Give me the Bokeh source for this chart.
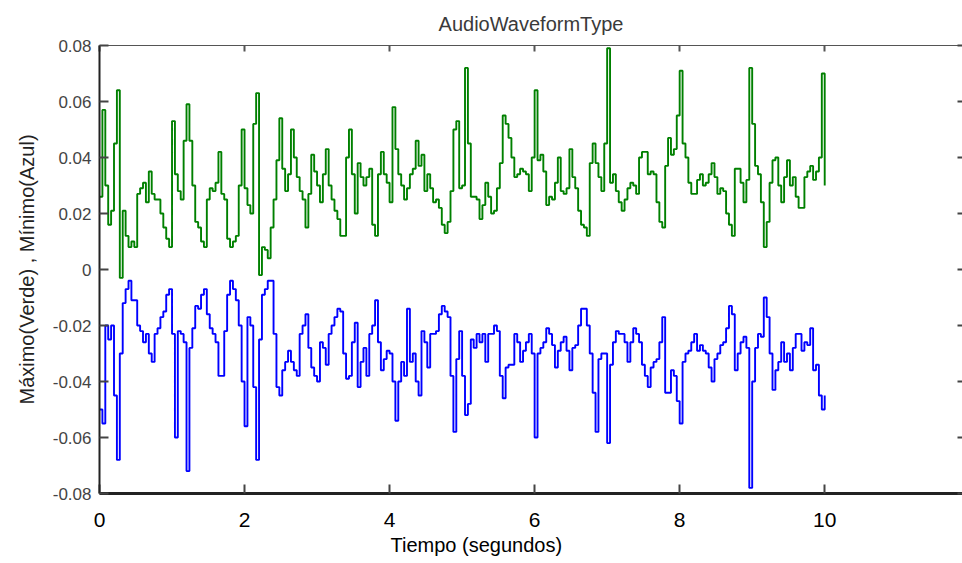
from bokeh.plotting import figure
from bokeh.models import Range1d, FixedTicker, LinearAxis, CustomJSTickFormatter, Title, ColumnDataSource
from bokeh.embed import file_html
from bokeh.resources import INLINE

title_text = "AudioWaveformType"
x_label = "Tiempo (segundos)"
y_label = "Máximo(Verde) , Mínimo(Azul)"

hop_seconds = 0.04

maximo_verde = [
    0.026, 0.057, 0.030, 0.016, 0.021, 0.045, 0.064, -0.003, 0.021, 0.012,
    0.008, 0.010, 0.008, 0.027, 0.029, 0.031, 0.024, 0.035, 0.027, 0.025,
    0.025, 0.020, 0.015, 0.011, 0.008, 0.053, 0.034, 0.028, 0.025, 0.046,
    0.059, 0.046, 0.030, 0.017, 0.015, 0.010, 0.008, 0.025, 0.029, 0.028,
    0.031, 0.042,
    0.027, 0.025, 0.011, 0.008, 0.010, 0.012, 0.030, 0.050, 0.029, 0.023,
    0.020, 0.052, 0.063, -0.002, 0.008, 0.007, 0.004, 0.015, 0.025, 0.039,
    0.054, 0.036, 0.028, 0.034, 0.050, 0.040, 0.033, 0.028, 0.025, 0.015,
    0.027, 0.041, 0.035, 0.030, 0.024, 0.034, 0.043, 0.030, 0.025, 0.021,
    0.018, 0.012,
    0.012, 0.040, 0.050, 0.034, 0.020, 0.038, 0.033, 0.030, 0.033, 0.036,
    0.016, 0.012, 0.034, 0.042, 0.034, 0.031, 0.024, 0.058, 0.043, 0.034,
    0.030, 0.025, 0.029, 0.034, 0.036, 0.046, 0.037, 0.041, 0.028, 0.034,
    0.029, 0.024, 0.025, 0.022, 0.016, 0.013, 0.017, 0.028, 0.050, 0.053,
    0.029, 0.030,
    0.072, 0.045, 0.026, 0.026, 0.025, 0.018, 0.023, 0.031, 0.026, 0.020,
    0.021, 0.029, 0.038, 0.055, 0.052, 0.047, 0.040, 0.033, 0.034, 0.036,
    0.035, 0.034, 0.028, 0.040, 0.064, 0.039, 0.041, 0.035, 0.023, 0.026,
    0.025, 0.031, 0.040, 0.028, 0.027, 0.029, 0.043, 0.033, 0.029, 0.021,
    0.016, 0.015, 0.012,
    0.038, 0.045, 0.038, 0.033, 0.028, 0.045, 0.079, 0.031, 0.034, 0.028,
    0.024, 0.021, 0.025, 0.029, 0.031, 0.030, 0.027, 0.040, 0.042, 0.042,
    0.034, 0.035, 0.034, 0.024, 0.017, 0.015, 0.037, 0.047, 0.041, 0.043,
    0.055, 0.071, 0.045, 0.040, 0.031, 0.027, 0.027, 0.032, 0.034, 0.030,
    0.031, 0.034,
    0.038, 0.033, 0.027, 0.029, 0.028, 0.020, 0.016, 0.012, 0.036, 0.036,
    0.031, 0.024, 0.032, 0.072, 0.052, 0.037, 0.034, 0.024, 0.008, 0.017,
    0.031, 0.039, 0.040, 0.030, 0.024, 0.033, 0.039, 0.030, 0.033, 0.026,
    0.022, 0.022, 0.033, 0.035, 0.037, 0.032, 0.035, 0.040, 0.070, 0.030,
]

minimo_azul = [
    -0.050, -0.055, -0.020, -0.025, -0.020, -0.045, -0.068, -0.030, -0.012, -0.007,
    -0.004, -0.011, -0.011, -0.020, -0.022, -0.026, -0.023, -0.030, -0.033, -0.023,
    -0.021, -0.017, -0.015, -0.009, -0.007, -0.023, -0.060, -0.022, -0.023, -0.026,
    -0.072, -0.028, -0.021, -0.013, -0.014, -0.009, -0.007, -0.016, -0.021, -0.023,
    -0.026, -0.038,
    -0.038, -0.022, -0.009, -0.004, -0.007, -0.011, -0.020, -0.040, -0.056, -0.017,
    -0.020, -0.042, -0.068, -0.025, -0.009, -0.007, -0.004, -0.004, -0.023, -0.042,
    -0.045, -0.036, -0.033, -0.029, -0.033, -0.036, -0.038, -0.023, -0.020, -0.016,
    -0.028, -0.035, -0.038, -0.040, -0.026, -0.028, -0.034, -0.023, -0.020, -0.017,
    -0.014, -0.015,
    -0.030, -0.039, -0.038, -0.026, -0.019, -0.042, -0.033, -0.028, -0.038, -0.023,
    -0.020, -0.011, -0.026, -0.036, -0.032, -0.029, -0.030, -0.040, -0.054, -0.040,
    -0.033, -0.038, -0.014, -0.033, -0.030, -0.040, -0.045, -0.022, -0.026, -0.035,
    -0.023, -0.023, -0.022, -0.016, -0.013, -0.015, -0.017, -0.038, -0.058, -0.032,
    -0.022, -0.038,
    -0.052, -0.048, -0.025, -0.028, -0.023, -0.026, -0.023, -0.033, -0.023, -0.023,
    -0.020, -0.022, -0.038, -0.046, -0.035, -0.034, -0.034, -0.023, -0.026, -0.033,
    -0.029, -0.026, -0.023, -0.030, -0.060, -0.030, -0.028, -0.026, -0.021, -0.023,
    -0.027, -0.035, -0.029, -0.026, -0.024, -0.029, -0.036, -0.028, -0.027, -0.020,
    -0.014, -0.014, -0.020,
    -0.030, -0.044, -0.058, -0.032, -0.030, -0.030, -0.062, -0.034, -0.026, -0.022,
    -0.023, -0.023, -0.026, -0.033, -0.026, -0.021, -0.023, -0.026, -0.034, -0.038,
    -0.042, -0.035, -0.033, -0.032, -0.026, -0.017, -0.044, -0.044, -0.036, -0.038,
    -0.047, -0.055, -0.033, -0.030, -0.029, -0.026, -0.023, -0.029, -0.027, -0.029,
    -0.030, -0.035,
    -0.040, -0.032, -0.030, -0.027, -0.026, -0.021, -0.013, -0.016, -0.036, -0.030,
    -0.026, -0.024, -0.028, -0.078, -0.040, -0.028, -0.023, -0.024, -0.010, -0.017,
    -0.030, -0.043, -0.036, -0.033, -0.026, -0.033, -0.030, -0.036, -0.028, -0.023,
    -0.023, -0.029, -0.026, -0.027, -0.021, -0.036, -0.034, -0.045, -0.050, -0.045,
]

x_ticks = [0, 2, 4, 6, 8, 10]
y_ticks = [-0.08, -0.06, -0.04, -0.02, 0, 0.02, 0.04, 0.06, 0.08]

tiempo = [round(i * hop_seconds, 4) for i in range(len(maximo_verde))]
source = ColumnDataSource(data=dict(t=tiempo, vmax=maximo_verde, vmin=minimo_azul))

FONT = "Liberation Sans"

p = figure(
    width=962, height=563,
    x_range=Range1d(0, 11.9), y_range=Range1d(-0.08, 0.08),
    output_backend="svg", toolbar_location=None,
    min_border_left=99, min_border_right=0, min_border_top=45, min_border_bottom=70,
    background_fill_color="white", border_fill_color="white",
    outline_line_color=None,
)
p.grid.visible = False

p.title.text = title_text
p.title.align = "center"
p.title.text_font = FONT
p.title.text_font_size = "20px"
p.title.text_font_style = "normal"
p.title.text_color = "#3a3a3a"
p.title.standoff = 21

p.step("t", "vmax", source=source, mode="after", line_color="#008000", line_width=1.9)
p.step("t", "vmin", source=source, mode="after", line_color="#0000ff", line_width=1.9)

xa = p.xaxis[0]
xa.ticker = FixedTicker(ticks=x_ticks)
xa.major_tick_in = 9
xa.major_tick_out = 0
xa.minor_tick_line_color = None
xa.axis_line_width = 3
xa.axis_line_color = "#222222"
xa.major_tick_line_color = "#444444"
xa.major_tick_line_width = 2
xa.major_label_text_font = FONT
xa.major_label_text_font_size = "21px"
xa.major_label_text_color = "black"
xa.major_label_standoff = 19

ya = p.yaxis[0]
ya.ticker = FixedTicker(ticks=y_ticks)
ya.formatter = CustomJSTickFormatter(code="return Math.abs(tick) < 1e-9 ? '0' : tick.toFixed(2);")
ya.major_tick_in = 9
ya.major_tick_out = 0
ya.minor_tick_line_color = None
ya.axis_line_width = 2
ya.axis_line_color = "#222222"
ya.major_tick_line_color = "#444444"
ya.major_tick_line_width = 2
ya.major_label_text_font = FONT
ya.major_label_text_font_size = "17px"
ya.major_label_text_color = "#444444"
ya.major_label_standoff = 8
ya.axis_label = y_label
ya.axis_label_text_font = FONT
ya.axis_label_text_font_size = "20px"
ya.axis_label_text_font_style = "normal"
ya.axis_label_text_color = "#222222"
ya.axis_label_standoff = 12

blank = "return '';"
top = LinearAxis(ticker=FixedTicker(ticks=x_ticks), formatter=CustomJSTickFormatter(code=blank),
                 major_label_text_font_size="0px", major_label_standoff=0,
                 major_tick_in=6, major_tick_out=0, minor_tick_line_color=None,
                 axis_line_color="#555555", axis_line_width=1,
                 major_tick_line_color="#555555", major_tick_line_width=2)
p.add_layout(top, "above")

right = LinearAxis(ticker=FixedTicker(ticks=y_ticks), formatter=CustomJSTickFormatter(code=blank),
                   major_label_text_font_size="0px", major_label_standoff=0,
                   major_tick_in=5, major_tick_out=0, minor_tick_line_color=None,
                   axis_line_color=None,
                   major_tick_line_color="#444444", major_tick_line_width=2)
p.add_layout(right, "right")

xt = Title(text=x_label, align="left", offset=291, text_font=FONT, text_font_size="20px",
           text_font_style="normal", text_color="black", standoff=4)
p.add_layout(xt, "below")

open("out.html", "w").write(file_html(p, INLINE))
